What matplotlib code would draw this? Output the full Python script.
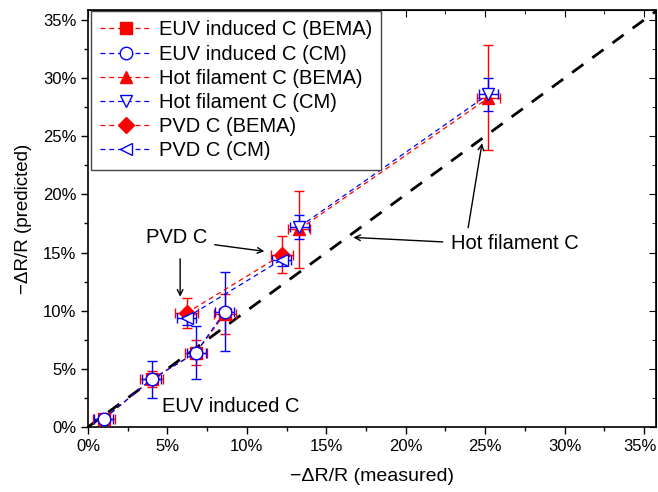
import numpy as np
import matplotlib
matplotlib.use('Agg')
import matplotlib.pyplot as plt
import matplotlib.transforms as mtransforms
from matplotlib.ticker import MultipleLocator, FuncFormatter

plt.rcParams['font.family'] = ['Liberation Sans', 'DejaVu Sans']

# ============================================================
# Data (percent)
# ============================================================
euv_x = [1.0, 4.0, 6.8, 8.6]
euv_bema_y = [0.7, 4.1, 6.4, 9.7]
euv_cm_y = [0.7, 4.1, 6.4, 9.9]
euv_bema_yerr = [0.3, 0.7, 1.1, 1.7]
euv_cm_yerr = [0.3, 1.6, 2.3, 3.4]

hf_x = [13.3, 25.2]
hf_bema_y = [17.0, 28.3]
hf_cm_y = [17.2, 28.6]
hf_bema_yerr = [3.3, 4.5]
hf_cm_yerr = [1.05, 1.4]

pvd_x = [6.2, 12.2]
pvd_bema_y = [9.8, 14.8]
pvd_cm_y = [9.4, 14.4]
pvd_bema_yerr = [1.3, 1.6]
pvd_cm_yerr = [0.6, 0.6]

bema_xerr = 0.7
cm_xerr = 0.6

ident = [0, 36]

# ============================================================
# Plot
# ============================================================
fig = plt.figure(figsize=(6.58, 4.92), dpi=100)
ax = fig.add_axes([88/658, 1 - 427/492, 568/658, 417/492])

ax.plot(ident, ident, color='black', linestyle=(0, (5, 4)), linewidth=2, zorder=1)

series = [
    (euv_x, euv_bema_y, euv_bema_yerr, 'red', 's', True, 'EUV induced C (BEMA)'),
    (euv_x, euv_cm_y, euv_cm_yerr, 'blue', 'o', False, 'EUV induced C (CM)'),
    (hf_x, hf_bema_y, hf_bema_yerr, 'red', '^', True, 'Hot filament C (BEMA)'),
    (hf_x, hf_cm_y, hf_cm_yerr, 'blue', 'v', False, 'Hot filament C (CM)'),
    (pvd_x, pvd_bema_y, pvd_bema_yerr, 'red', 'D', True, 'PVD C (BEMA)'),
    (pvd_x, pvd_cm_y, pvd_cm_yerr, 'blue', '<', False, 'PVD C (CM)'),
]

handles = []
for x, y, yerr, col, mk, filled, lab in series:
    xerr = bema_xerr if col == 'red' else cm_xerr
    ax.errorbar(x, y, yerr=yerr, xerr=xerr, fmt='none', ecolor=col,
                elinewidth=1, capsize=3.5, capthick=1, zorder=2)
    ms = 8 if mk == 'D' else 9
    h, = ax.plot(x, y, color=col, linestyle=(0, (4, 3)), linewidth=0.9,
                 marker=mk, markersize=ms,
                 markerfacecolor=col if filled else 'white',
                 markeredgecolor=col, markeredgewidth=1, label=lab, zorder=3)
    handles.append(h)

ax.set_xlim(0, 35.75)
ax.set_ylim(0, 35.85)
pct = FuncFormatter(lambda v, p: f'{v:.0f}%')
for a in (ax.xaxis, ax.yaxis):
    a.set_major_locator(MultipleLocator(5))
    a.set_minor_locator(MultipleLocator(2.5))
    a.set_major_formatter(pct)
ax.tick_params(which='both', direction='out', labelsize=12, top=False, right=False)
ax.tick_params(which='major', length=5, width=1)
ax.tick_params(which='minor', length=3, width=1)
for sp in ax.spines.values():
    sp.set_linewidth(1.2)

# mirrored inward ticks on top/right
sec_top = ax.secondary_xaxis('top')
sec_right = ax.secondary_yaxis('right')
for sec, axis in ((sec_top, sec_top.xaxis), (sec_right, sec_right.yaxis)):
    axis.set_major_locator(MultipleLocator(5))
    axis.set_minor_locator(MultipleLocator(2.5))
    sec.tick_params(which='both', direction='in', labelleft=False, labelright=False,
                    labeltop=False, labelbottom=False)
    sec.tick_params(which='major', length=5)
    sec.tick_params(which='minor', length=3)

ax.set_xlabel('\u2212\u0394R/R (measured)', fontsize=14, labelpad=10)
ax.set_ylabel('\u2212\u0394R/R (predicted)', fontsize=13.5, labelpad=8)

# keep the 35% x tick label inside the figure
fig.canvas.draw()
for lbl in ax.get_xticklabels():
    if lbl.get_text() == '35%':
        lbl.set_transform(lbl.get_transform() +
                          mtransforms.ScaledTranslation(-3/72, 0, fig.dpi_scale_trans))

leg = ax.legend(handles=handles, loc='upper left', bbox_to_anchor=(0.006, 0.997),
                borderaxespad=0, fontsize=14.5, fancybox=False, framealpha=1,
                edgecolor='#444444', handlelength=2.5, labelspacing=0.26,
                handletextpad=0.4, borderpad=0.45)
leg.get_frame().set_linewidth(1)

arrow = dict(arrowstyle='->', color='black', linewidth=1, shrinkA=2, shrinkB=0)
ax.text(5.6, 16.25, 'PVD C', fontsize=14.5, ha='center', va='center')
ax.annotate('', xy=(5.8, 11.2), xytext=(5.8, 14.7), arrowprops=arrow)
ax.annotate('', xy=(11.1, 15.1), xytext=(7.8, 15.7), arrowprops=arrow)

ax.text(22.85, 15.8, 'Hot filament C', fontsize=14.5, ha='left', va='center')
ax.annotate('', xy=(16.7, 16.3), xytext=(22.5, 15.9), arrowprops=arrow)
ax.annotate('', xy=(24.8, 24.4), xytext=(23.9, 16.9), arrowprops=arrow)

ax.text(9.0, 1.8, 'EUV induced C', fontsize=14.5, ha='center', va='center')

plt.savefig('out.png', dpi=100)
plt.close()
